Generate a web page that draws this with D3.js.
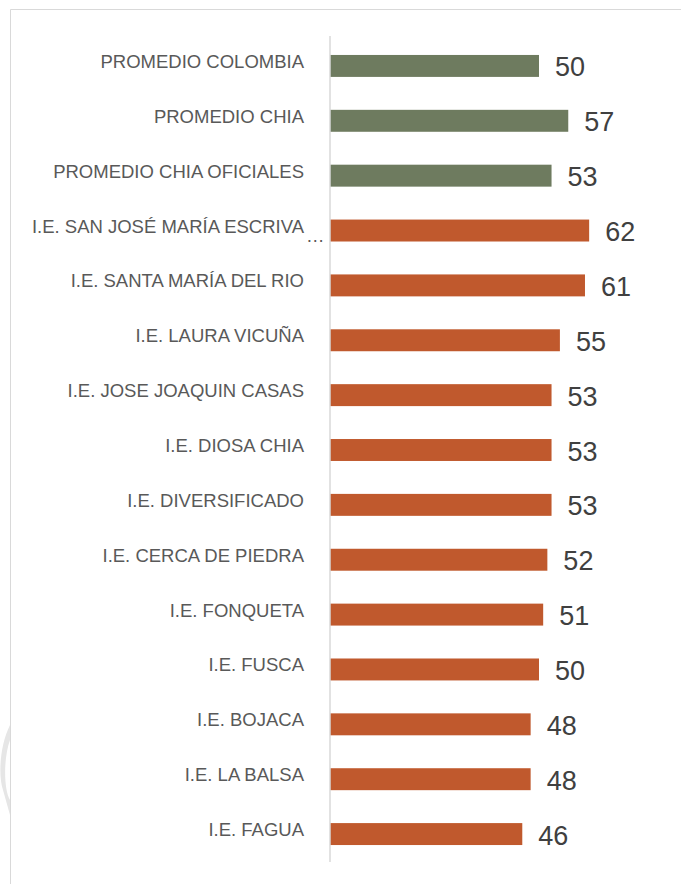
<!DOCTYPE html>
<html>
<head>
<meta charset="utf-8">
<script src="https://cdn.jsdelivr.net/npm/d3@7"></script>
<style>
  body { margin: 0; background: #fff; }
  svg { display: block; font-family: "Liberation Sans", Arial, sans-serif; }
</style>
</head>
<body>
<div id="chart"></div>
<script>
var categories = [
  "PROMEDIO COLOMBIA", "PROMEDIO CHIA", "PROMEDIO CHIA OFICIALES",
  "I.E. SAN JOSÉ MARÍA ESCRIVA", "I.E. SANTA MARÍA DEL RIO", "I.E. LAURA VICUÑA",
  "I.E. JOSE JOAQUIN CASAS", "I.E. DIOSA CHIA", "I.E. DIVERSIFICADO",
  "I.E. CERCA DE PIEDRA", "I.E. FONQUETA", "I.E. FUSCA",
  "I.E. BOJACA", "I.E. LA BALSA", "I.E. FAGUA"
];
var values = [50, 57, 53, 62, 61, 55, 53, 53, 53, 52, 51, 50, 48, 48, 46];
// the first three rows are averages, the rest are schools
var groups = ["avg", "avg", "avg", "school", "school", "school", "school", "school",
  "school", "school", "school", "school", "school", "school", "school"];
var truncated = ["I.E. SAN JOSÉ MARÍA ESCRIVA"];

var colors = { avg: "#6e7b5f", school: "#c0592d" };

var width = 681, height = 884;
var svg = d3.select("#chart").append("svg").attr("width", width).attr("height", height);

// frame
svg.append("path")
  .attr("d", "M10.5," + height + "V9.5H" + width)
  .attr("fill", "none").attr("stroke", "#d9d9d9").attr("stroke-width", 1);

// faint watermark piece at the left edge
svg.append("path")
  .attr("d", "M10,725 C0,745 -2,775 3,790 L10,815 L10,800 C4,790 3,760 10,740 Z")
  .attr("fill", "#e6e6e6");

var x = d3.scaleLinear().domain([0, 70]).range([330, 330 + 70 * 4.18]);
var y = d3.scaleBand().domain(categories).range([38.5, 861.5])
  .paddingInner(0.6).paddingOuter(0.3);

var rows = categories.map(function(c, i) {
  return { name: c, value: values[i], group: groups[i] };
});

svg.selectAll("rect.bar").data(rows).enter().append("rect")
  .attr("class", "bar")
  .attr("x", x(0))
  .attr("y", function(d) { return y(d.name); })
  .attr("width", function(d) { return x(d.value) - x(0); })
  .attr("height", y.bandwidth())
  .attr("fill", function(d) { return colors[d.group]; });

// axis line
svg.append("line")
  .attr("x1", x(0)).attr("x2", x(0))
  .attr("y1", 36).attr("y2", 862)
  .attr("stroke", "#d9d9d9").attr("stroke-width", 1.5);

var center = function(d) { return y(d.name) + y.bandwidth() / 2; };

svg.selectAll("text.cat").data(rows).enter().append("text")
  .attr("class", "cat")
  .attr("x", 304)
  .attr("y", function(d) { return center(d) + 2; })
  .attr("text-anchor", "end")
  .attr("font-size", "18.5px")
  .attr("fill", "#595959")
  .text(function(d) { return d.name; });

svg.selectAll("text.more").data(rows.filter(function(d) { return truncated.indexOf(d.name) >= 0; }))
  .enter().append("text")
  .attr("class", "more")
  .attr("x", 306)
  .attr("y", function(d) { return center(d) + 11; })
  .attr("font-size", "18.5px")
  .attr("fill", "#595959")
  .text("…");

svg.selectAll("text.val").data(rows).enter().append("text")
  .attr("class", "val")
  .attr("x", function(d) { return x(d.value) + 16; })
  .attr("y", function(d) { return center(d) + 10.5; })
  .attr("font-size", "27px")
  .attr("fill", "#404040")
  .text(function(d) { return d.value; });
</script>
</body>
</html>
